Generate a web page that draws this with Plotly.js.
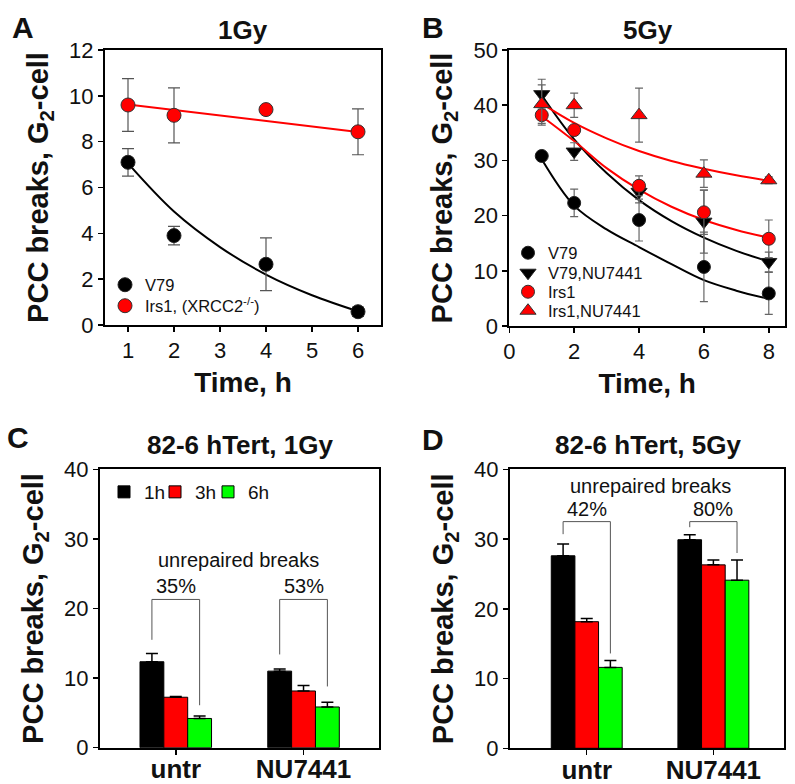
<!DOCTYPE html>
<html><head><meta charset="utf-8">
<script src="https://cdn.plot.ly/plotly-3.0.1.min.js"></script>
<style>html,body{margin:0;padding:0;background:#fff}#chart{width:795px;height:784px}</style>
</head><body><div id="chart"></div>
<script>
// ---------- Panel A : 1Gy ----------
const timeA = [1, 2, 4, 6];
const v79A = [7.1, 3.9, 2.65, 0.58];
const v79A_err = [0.6, 0.4, 1.15, 0.2];
const irs1A = [9.6, 9.15, 9.4, 8.43];
const irs1A_err = [1.15, 1.2, 0, 1.0];
const fitTimeA = [1, 2, 3, 4, 5, 6];
const v79A_fit = [7.05, 4.95, 3.4, 2.2, 1.3, 0.6];
const fitTimeA_lin = [1, 6];
const irs1A_fit = [9.62, 8.42];

// ---------- Panel B : 5Gy ----------
const timeB = [1, 2, 4, 6, 8];
const v79B = [30.8, 22.3, 19.2, 10.7, 5.9];
const v79B_err = [0.8, 2.5, 3.8, 6.3, 3.8];
const v79nuB = [42.0, 31.6, 24.3, 18.9, 11.6];
const v79nuB_err = [2.7, 1.6, 2.0, 5.7, 1.8];
const irs1B = [38.2, 35.5, 25.4, 20.6, 15.8];
const irs1B_err = [1.8, 0.8, 1.8, 4.0, 3.4];
const irs1nuB = [40.2, 40.0, 38.2, 27.6, 26.4];
const irs1nuB_err = [3.5, 2.2, 4.9, 2.5, 0.6];
const fitTimeB = [1, 2, 3, 4, 5, 6, 7, 8];
const v79B_fit = [30.2, 21.8, 17.5, 14.3, 11.2, 8.3, 6.4, 4.9];
const v79nuB_fit = [41.8, 33.8, 27.7, 22.8, 19.0, 16.0, 13.6, 11.7];
const irs1B_fit = [38.0, 33.5, 28.6, 24.7, 21.6, 19.2, 17.4, 16.0];
const irs1nuB_fit = [40.3, 36.8, 34.0, 31.7, 29.9, 28.5, 27.3, 26.3];

// ---------- Panels C / D : 82-6 hTert ----------
const groups = ['untr', 'NU7441'];
const timeLabels = ['1h', '3h', '6h'];
const c1h = [12.35, 11.0], c1h_err = [1.2, 0.3];
const c3h = [7.25, 8.15],  c3h_err = [0.1, 0.8];
const c6h = [4.2, 5.85],   c6h_err = [0.35, 0.67];
const d1h = [27.6, 29.9],  d1h_err = [1.7, 0.7];
const d3h = [18.15, 26.3], d3h_err = [0.45, 0.7];
const d6h = [11.6, 24.1],  d6h_err = [1.0, 2.9];
const pctC = ['35%', '53%'];
const pctD = ['42%', '80%'];
const bracketTopC = [21.3, 21.3], bracketLeftC = [15.5, 13.4], bracketRightC = [6.1, 8.8];
const bracketTopD = [32.5, 32.5], bracketLeftD = [30.7, 31.7], bracketRightD = [13.6, 28.0];
const pctY_C = 23.2, labelY_C = 26.9;
const pctY_D = 34.3, labelY_D = 37.6;

const FONT = 'Liberation Sans, Arial, Helvetica, sans-serif';
const RED = '#ff0000', GREEN = '#00ff00', BLACK = '#000000';
const BARGAP = 0.44;
const barOff = (1 - BARGAP) / 3;

function errBar(arr, color, w, th) {
  return {type: 'data', array: arr, visible: true, color: color, thickness: th, width: w};
}
function errUp(arr) {
  return {type: 'data', symmetric: false, array: arr, arrayminus: arr.map(() => 0),
          visible: true, color: '#000', thickness: 1.5, width: 6};
}

const traces = [];
// A fits
traces.push({x: fitTimeA, y: v79A_fit, xaxis: 'x', yaxis: 'y', mode: 'lines',
  line: {color: BLACK, width: 2, shape: 'spline'}, showlegend: false, hoverinfo: 'skip'});
traces.push({x: fitTimeA_lin, y: irs1A_fit, xaxis: 'x', yaxis: 'y', mode: 'lines',
  line: {color: RED, width: 2}, showlegend: false, hoverinfo: 'skip'});
// A points
traces.push({x: timeA, y: v79A, name: 'V79', xaxis: 'x', yaxis: 'y', mode: 'markers', legend: 'legend',
  marker: {symbol: 'circle', size: 14, color: BLACK, line: {color: '#222', width: 1}},
  error_y: errBar(v79A_err, '#555', 6, 1.2)});
traces.push({x: timeA, y: irs1A, name: 'Irs1, (XRCC2<sup>-/-</sup>)', xaxis: 'x', yaxis: 'y', mode: 'markers', legend: 'legend2',
  marker: {symbol: 'circle', size: 14, color: RED, line: {color: '#333', width: 1}},
  error_y: errBar(irs1A_err, '#555', 6, 1.2)});

// B fits
[[v79B_fit, BLACK], [v79nuB_fit, BLACK], [irs1B_fit, RED], [irs1nuB_fit, RED]].forEach(([f, c]) => {
  traces.push({x: fitTimeB, y: f, xaxis: 'x2', yaxis: 'y2', mode: 'lines',
    line: {color: c, width: 2, shape: 'spline'}, showlegend: false, hoverinfo: 'skip'});
});
traces.push({x: timeB, y: v79B, name: 'V79', xaxis: 'x2', yaxis: 'y2', mode: 'markers', legend: 'legend3',
  marker: {symbol: 'circle', size: 13, color: BLACK, line: {color: '#222', width: 1}},
  error_y: errBar(v79B_err, '#666', 4, 1.2)});
traces.push({x: timeB, y: v79nuB, name: 'V79,NU7441', xaxis: 'x2', yaxis: 'y2', mode: 'markers', legend: 'legend4',
  marker: {symbol: 'triangle-down', size: 14, color: BLACK, line: {color: '#222', width: 1}},
  error_y: errBar(v79nuB_err, '#666', 4, 1.2)});
traces.push({x: timeB, y: irs1B, name: 'Irs1', xaxis: 'x2', yaxis: 'y2', mode: 'markers', legend: 'legend5',
  marker: {symbol: 'circle', size: 13, color: RED, line: {color: '#333', width: 1}},
  error_y: errBar(irs1B_err, '#666', 4, 1.2)});
traces.push({x: timeB, y: irs1nuB, name: 'Irs1,NU7441', xaxis: 'x2', yaxis: 'y2', mode: 'markers', legend: 'legend6',
  marker: {symbol: 'triangle-up', size: 14, color: RED, line: {color: '#333', width: 1}},
  error_y: errBar(irs1nuB_err, '#666', 4, 1.2)});

// C / D bars
const cSeries = [[c1h, c1h_err, BLACK], [c3h, c3h_err, RED], [c6h, c6h_err, GREEN]];
const dSeries = [[d1h, d1h_err, BLACK], [d3h, d3h_err, RED], [d6h, d6h_err, GREEN]];
const cLegends = ['legend7', 'legend8', 'legend9'];
cSeries.forEach(([v, e, col], i) => {
  traces.push({type: 'bar', x: groups, y: v, name: timeLabels[i], xaxis: 'x3', yaxis: 'y3', legend: cLegends[i],
    marker: {color: col, line: {color: '#000', width: 1}}, error_y: errUp(e)});
});
dSeries.forEach(([v, e, col], i) => {
  traces.push({type: 'bar', x: groups, y: v, name: timeLabels[i], xaxis: 'x4', yaxis: 'y4', showlegend: false,
    marker: {color: col, line: {color: '#000', width: 1}}, error_y: errUp(e)});
});

// brackets and annotations for C / D
const shapes = [];
const annotations = [];
function brackets(xr, yr, top, left, right) {
  groups.forEach((g, i) => {
    const xl = i - barOff, xrr = i + barOff;
    const ln = {type: 'line', xref: xr, yref: yr, line: {color: '#555', width: 1}};
    shapes.push(Object.assign({x0: xl, x1: xl, y0: left[i], y1: top[i]}, ln));
    shapes.push(Object.assign({x0: xl, x1: xrr, y0: top[i], y1: top[i]}, ln));
    shapes.push(Object.assign({x0: xrr, x1: xrr, y0: top[i], y1: right[i]}, ln));
  });
}
brackets('x3', 'y3', bracketTopC, bracketLeftC, bracketRightC);
brackets('x4', 'y4', bracketTopD, bracketLeftD, bracketRightD);
const annFont = {family: FONT, size: 20, color: '#111'};
pctC.forEach((p, i) => annotations.push({xref: 'x3', yref: 'y3', x: i, y: pctY_C, text: p, showarrow: false, font: annFont}));
pctD.forEach((p, i) => annotations.push({xref: 'x4', yref: 'y4', x: i, y: pctY_D, text: p, showarrow: false, font: annFont}));
annotations.push({xref: 'x3', yref: 'y3', x: 0.49, y: labelY_C, text: 'unrepaired breaks', showarrow: false, font: annFont});
annotations.push({xref: 'x4', yref: 'y4', x: 0.5, y: labelY_D, text: 'unrepaired breaks', showarrow: false, font: annFont});

// panel titles & letters
const titleFont = {family: FONT, size: 26, color: '#111', weight: 'bold'};
const letterFont = {family: FONT, size: 30, color: '#111', weight: 'bold'};
[['1Gy', 243, 30], ['5Gy', 647.5, 30], ['82-6 hTert, 1Gy', 240, 445], ['82-6 hTert, 5Gy', 648, 445]].forEach(([t, px, py]) => {
  annotations.push({xref: 'paper', yref: 'paper', x: px / 795, y: 1 - py / 784, text: t, showarrow: false,
    xanchor: 'center', yanchor: 'middle', font: titleFont});
});
[['A', 23, 28], ['B', 433, 28], ['C', 17.5, 437], ['D', 433, 440]].forEach(([t, px, py]) => {
  annotations.push({xref: 'paper', yref: 'paper', x: px / 795, y: 1 - py / 784, text: t, showarrow: false,
    xanchor: 'center', yanchor: 'middle', font: letterFont});
});

function ax(extra) {
  return Object.assign({
    showline: true, linecolor: '#000', linewidth: 2, mirror: true,
    ticks: 'outside', ticklen: 5, tickwidth: 1.5, tickcolor: '#000',
    showgrid: false, zeroline: false, fixedrange: true,
    tickfont: {family: FONT, size: 22, color: '#111'}
  }, extra);
}
const yTitle = {text: 'PCC breaks, G<sub>2</sub>-cell', font: {family: FONT, size: 29, color: '#111', weight: 'bold'}, standoff: 12};
const xTitle = {text: 'Time, h', font: {family: FONT, size: 28, color: '#111', weight: 'bold'}, standoff: 10};
const catFont = {family: FONT, size: 26, color: '#111', weight: 'bold'};

const W = 795, H = 784;
const dx = (a, b) => [a / W, b / W];
const dy = (top, bot) => [1 - bot / H, 1 - top / H];

function leg(px, py, size) {
  return {x: px / W, y: 1 - py / H, xanchor: 'left', yanchor: 'middle', bgcolor: 'rgba(0,0,0,0)',
          font: {family: FONT, size: size, color: '#111'}, tracegroupgap: 0, borderwidth: 0};
}

const layout = {
  width: W, height: H,
  margin: {l: 0, r: 0, t: 0, b: 0},
  paper_bgcolor: '#fff', plot_bgcolor: '#fff',
  font: {family: FONT, color: '#111'},
  barmode: 'group', bargap: BARGAP, bargroupgap: 0,
  xaxis:  ax({domain: dx(105, 381), anchor: 'y', range: [0.5, 6.5], tickvals: [1, 2, 3, 4, 5, 6], title: xTitle}),
  yaxis:  ax({domain: dy(50, 325), anchor: 'x', range: [0, 12], dtick: 2, title: yTitle}),
  xaxis2: ax({domain: dx(509.3, 785), anchor: 'y2', range: [0, 8.5], dtick: 2, title: xTitle}),
  yaxis2: ax({domain: dy(50, 326), anchor: 'x2', range: [0, 50], dtick: 10, title: yTitle}),
  xaxis3: ax({domain: dx(100, 379.3), anchor: 'y3', type: 'category', range: [-0.593, 1.593], tickfont: catFont, ticklabelstandoff: -8}),
  yaxis3: ax({domain: dy(469.3, 747.7), anchor: 'x3', range: [0, 40], dtick: 10, title: yTitle}),
  xaxis4: ax({domain: dx(510, 784.3), anchor: 'y4', type: 'category', range: [-0.606, 1.56], tickfont: catFont, ticklabelstandoff: -8}),
  yaxis4: ax({domain: dy(469.3, 748.3), anchor: 'x4', range: [0, 40], dtick: 10, title: yTitle}),
  legend:  leg(105, 285, 16.5),
  legend2: leg(105, 306, 16.5),
  legend3: leg(508, 253, 16.5),
  legend4: leg(508, 273, 16.5),
  legend5: leg(508, 292, 16.5),
  legend6: leg(508, 311, 16.5),
  legend7: leg(104, 492, 19),
  legend8: leg(155, 492, 19),
  legend9: leg(208, 492, 19),
  shapes: shapes,
  annotations: annotations,
  showlegend: true
};

Plotly.newPlot('chart', traces, layout, {displayModeBar: false, staticPlot: true});
</script>
</body></html>
